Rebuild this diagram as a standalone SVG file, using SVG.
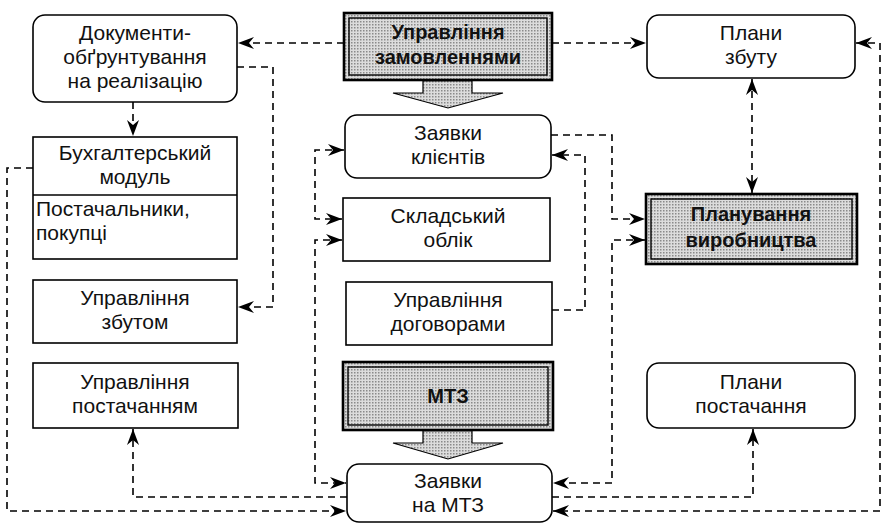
<svg xmlns="http://www.w3.org/2000/svg" width="885" height="524" viewBox="0 0 885 524">
<style>
  .box { fill: #fff; stroke: #000; stroke-width: 1.6; }
  .t { font-family: "Liberation Sans", Arial, sans-serif; font-size: 21px; fill: #111; text-anchor: middle; }
  .tl { font-family: "Liberation Sans", Arial, sans-serif; font-size: 21px; fill: #111; text-anchor: start; }
  .tb { font-family: "Liberation Sans", Arial, sans-serif; font-size: 20px; font-weight: bold; fill: #111; text-anchor: middle; }
  .outer { fill: url(#dots); stroke: #000; stroke-width: 2.6; }
  .inner { fill: none; stroke: #000; stroke-width: 1.4; }
  .blk { fill: url(#dots); stroke: #000; stroke-width: 1.2; }
  .c { fill: none; stroke: #000; stroke-width: 1.6; stroke-dasharray: 7 5; }
</style>
<defs>
  <pattern id="dots" width="3" height="3" patternUnits="userSpaceOnUse">
    <rect width="3" height="3" fill="#dcdcdc"/>
    <rect width="1.5" height="1.5" fill="#8a8a8a"/>
  </pattern>
  <marker id="ah" markerWidth="17" markerHeight="12" refX="16" refY="6" orient="auto-start-reverse" markerUnits="userSpaceOnUse">
    <path d="M0,0 L16,6 L0,12 L5,6 Z" fill="#000"/>
  </marker>
</defs>

<g id="connectors">
  <path class="c" d="M344,43 H238" marker-end="url(#ah)"/>
  <path class="c" d="M552,43 H646" marker-end="url(#ah)"/>
  <path class="c" d="M133,102 V136" marker-end="url(#ah)"/>
  <path class="c" d="M237,67 H273 V307 H238" marker-end="url(#ah)"/>
  <path class="c" d="M33,168 H7 V511 H346" marker-end="url(#ah)"/>
  <path class="c" d="M344,150 H315 V219 H342" marker-start="url(#ah)" marker-end="url(#ah)"/>
  <path class="c" d="M342,240 H315 V483 H346" marker-start="url(#ah)" marker-end="url(#ah)"/>
  <path class="c" d="M347,497 H133 V429" marker-end="url(#ah)"/>
  <path class="c" d="M552,497 H753 V429" marker-end="url(#ah)"/>
  <path class="c" d="M551,135 H612 V219 H645" marker-end="url(#ah)"/>
  <path class="c" d="M552,310 H585 V155 H552" marker-end="url(#ah)"/>
  <path class="c" d="M645,240 H612 V483 H553" marker-start="url(#ah)" marker-end="url(#ah)"/>
  <path class="c" d="M752,79 V193" marker-start="url(#ah)" marker-end="url(#ah)"/>
  <path class="c" d="M856,43 H880 V511 H553" marker-start="url(#ah)" marker-end="url(#ah)"/>
</g>

<g id="n-dokumenty">
  <rect class="box" x="33" y="15" width="204" height="87" rx="12"/>
  <text class="t" x="135" y="40">Документи-</text>
  <text class="t" x="135" y="64">обґрунтування</text>
  <text class="t" x="135" y="88">на реалізацію</text>
</g>

<g id="n-upr-zamovl">
  <rect class="outer" x="344" y="13" width="208" height="67"/>
  <rect class="inner" x="349" y="18" width="198" height="57"/>
  <text class="tb" x="448" y="39">Управління</text>
  <text class="tb" x="448" y="64">замовленнями</text>
  <path class="blk" d="M423,81 H472 V93 H503 L448,108 L393,93 H423 Z"/>
</g>

<g id="n-plany-zbutu">
  <rect class="box" x="647" y="15" width="208" height="63" rx="12"/>
  <text class="t" x="751" y="40">Плани</text>
  <text class="t" x="751" y="64">збуту</text>
</g>

<g id="n-zayavky-klientiv">
  <rect class="box" x="345" y="115" width="206" height="63" rx="12"/>
  <text class="t" x="448" y="140">Заявки</text>
  <text class="t" x="448" y="164">клієнтів</text>
</g>

<g id="n-buhgalter">
  <rect class="box" x="33" y="137" width="204" height="122"/>
  <line x1="33" y1="195" x2="237" y2="195" stroke="#000" stroke-width="1.4"/>
  <text class="t" x="135" y="160">Бухгалтерський</text>
  <text class="t" x="135" y="184">модуль</text>
  <text class="tl" x="36" y="216">Постачальники,</text>
  <text class="tl" x="36" y="240">покупці</text>
</g>

<g id="n-skladskyi">
  <rect class="box" x="343" y="198" width="207" height="63"/>
  <text class="t" x="448" y="223">Складський</text>
  <text class="t" x="448" y="247">облік</text>
</g>

<g id="n-planuvannia">
  <rect class="outer" x="646" y="194" width="211" height="70"/>
  <rect class="inner" x="651" y="199" width="201" height="60"/>
  <text class="tb" x="751" y="221">Планування</text>
  <text class="tb" x="751" y="247">виробництва</text>
</g>

<g id="n-upr-zbutom">
  <rect class="box" x="33" y="280" width="204" height="63"/>
  <text class="t" x="135" y="305">Управління</text>
  <text class="t" x="135" y="329">збутом</text>
</g>

<g id="n-dogovory">
  <rect class="box" x="346" y="282" width="206" height="63"/>
  <text class="t" x="448" y="307">Управління</text>
  <text class="t" x="448" y="331">договорами</text>
</g>

<g id="n-upr-postach">
  <rect class="box" x="33" y="363" width="205" height="65"/>
  <text class="t" x="135" y="389">Управління</text>
  <text class="t" x="135" y="413">постачанням</text>
</g>

<g id="n-mtz">
  <rect class="outer" x="343" y="362" width="210" height="68"/>
  <rect class="inner" x="348" y="367" width="200" height="58"/>
  <text class="tb" x="448" y="403">МТЗ</text>
  <path class="blk" d="M423,431 H472 V443 H503 L448,459 L393,443 H423 Z"/>
</g>

<g id="n-plany-postach">
  <rect class="box" x="647" y="363" width="208" height="65" rx="12"/>
  <text class="t" x="751" y="389">Плани</text>
  <text class="t" x="751" y="413">постачання</text>
</g>

<g id="n-zayavky-mtz">
  <rect class="box" x="347" y="464" width="205" height="58" rx="12"/>
  <text class="t" x="448" y="488">Заявки</text>
  <text class="t" x="448" y="512">на МТЗ</text>
</g>
</svg>
